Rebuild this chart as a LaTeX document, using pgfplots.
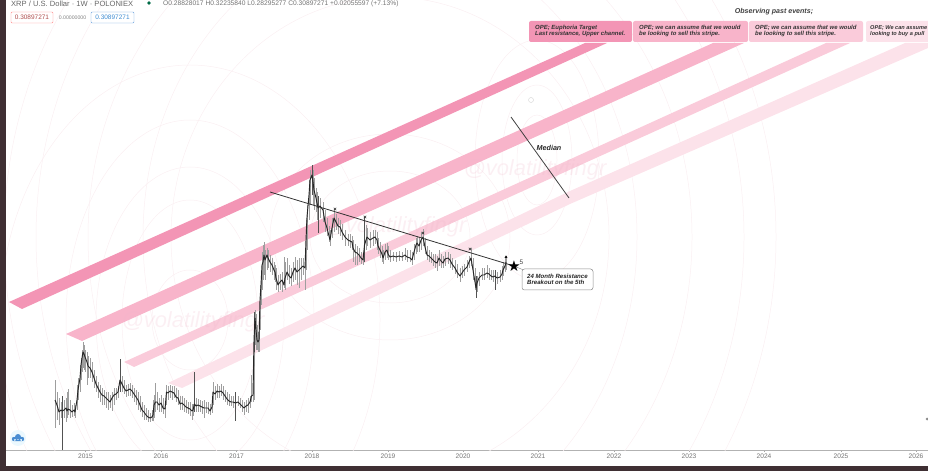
\documentclass[border=0pt]{standalone}
\usepackage{pgfplots}
\usepackage{pgfplotstable}
\usepackage{fontspec}
\setmainfont{Liberation Sans}
\pgfplotsset{compat=1.18}
\definecolor{bgd}{HTML}{3F2F33}
\definecolor{bandA}{HTML}{F395B5}
\definecolor{bandB}{HTML}{F8B4CA}
\definecolor{bandC}{HTML}{FACBDA}
\definecolor{bandD}{HTML}{FCE2EA}
\definecolor{ring}{HTML}{FAEFF2}
\definecolor{wm}{HTML}{EFB8CA}
\pgfplotstableread{
x c h l
55 400 380 428
57 405 392 420
59 412 398 425
61 410 402 418
62.5 411 396 420
64 410 400 418
66 408 398 422
67 411 392 418
68 409 389 415
70 410 400 418
72 412 405 417
74 410 403 416
75 412 405 418
77 400 385 410
78 390 378 400
80 378 365 392
81 365 358 380
82 358 350 372
83 352 342 368
84 354 345 370
85 357 350 372
87 362 352 385
88 366 356 378
90 368 358 378
92 372 362 382
94 378 370 388
96 384 376 392
98 388 382 398
100 392 385 402
102 395 388 405
104 396 390 405
106 398 392 408
108 400 392 410
110 402 395 408
112 398 392 411
114 395 388 405
116 394 388 400
118 392 386 398
120 380 372 392
122 384 376 392
124 388 380 394
126 391 385 397
128 390 384 396
130 389 383 396
132 391 385 398
134 394 388 402
136 397 390 405
138 400 392 410
140 405 396 412
142 410 402 417
144 412 405 420
146 415 408 420
148 417 410 422
150 418 413 422
152 417 410 421
153 415 400 421
154 405 395 418
155.5 402 383 412
157 402 392 410
159 405 398 412
161 403 395 412
163 408 398 414
165 409 402 418
166.5 392 385 405
168 393 386 400
170 391 385 398
172 392 386 400
174 393 386 398
176 397 388 402
178 398 390 405
180 404 396 410
182 403 396 410
184 405 398 412
186 407 400 413
188 408 402 414
190 409 402 416
192 411 404 420
193 410 404 416
194.5 404 396 412
196 406 398 412
198 405 399 412
200 406 400 412
202 407 401 414
204 408 400 418
206 408 402 413
208 408 402 414
210 411 404 415
212 407 402 413
213 392 382 405
215 394 386 400
217 391 384 398
219 392 386 398
221 391 384 396
223 393 386 400
225 396 390 402
227 399 392 405
229 401 394 406
231 402 396 406
233 402 396 408
235.5 403 392 410
238 402 396 406
240 404 398 408
242 406 400 412
244 408 402 415
246 406 400 412
248 405 398 413
250 402 396 408
251.5 396 375 402
253 395 375 402
254 340 312 400
255 318 310 345
256 330 314 350
257 340 325 350
258 342 332 352
259 340 320 352
260 300 285 330
261 285 270 305
262 265 252 290
263 262 245 280
264 255 242 275
265 260 250 280
267 255 248 270
268 258 250 268
270 262 255 272
272 265 258 275
274 270 262 280
275 272 265 282
276 278 268 290
278 285 275 292
280 282 274 290
282 280 272 292
284 285 257 288
285 278 262 290
287 272 258 280
289 276 265 284
291 278 268 286
293 272 262 282
295 268 257 280
297 272 260 285
299 270 258 288
301 268 258 280
303 266 258 275
305 268 258 290
306 240 220 270
307 217 205 250
309 195 180 220
310 180 170 205
312 175 165 195
313 182 170 205
314 190 178 210
316 198 188 212
317 203 192 220
318 208 196 233
320 206 198 218
323 210 202 222
325 222 210 232
327 228 218 236
329 236 226 242
330 240 230 246
332 228 218 238
334 218 209 232
336 222 214 230
338 226 218 234
340 227 220 236
342 232 224 240
345 237 230 246
348 240 234 246
350 241 234 248
352 242 236 250
353 248 240 262
355 252 244 265
357 253 246 265
359 255 248 262
361 258 252 264
363 260 252 265
364.5 245 230 262
366 240 225 250
367 237 228 246
370 240 232 248
373 238 230 246
375 237 230 244
377 240 232 250
378 246 238 254
380 250 242 258
382 254 246 262
383 258 250 264
385 252 244 260
387 250 243 258
388 254 246 260
390 257 250 262
393 256 252 261
396 257 252 262
399 256 251 261
402 257 252 261
405 255 248 260
407 257 250 262
410 258 250 262
412 260 252 265
414 252 244 260
416 245 238 254
417 243 236 252
419 246 238 252
421 240 232 250
423 237 229 246
425 247 238 254
427 255 246 260
429 256 250 262
431 258 252 263
433 260 254 266
435 262 254 268
437 263 256 271
439 258 250 266
441 261 254 268
443 263 256 268
445 259 252 266
448 258 252 264
450 260 254 268
452 264 258 270
455 268 260 274
457 272 264 278
460 276 268 282
462 273 266 278
464 270 264 276
467 267 260 272
469 262 256 268
471 258 248 266
473 270 258 280
475 282 268 290
476 288 276 292
477 283 276 292
479 278 272 286
482 275 268 280
484 275 268 280
487 273 265 278
489 274 268 280
491 276 270 280
493 277 270 282
495 276 270 280
497 278 272 284
500 277 270 282
502 274 266 280
503 270 262 276
505 266 258 272
506 262 256 270
}\pricedata
\pgfplotstableread{
x c h l
62.5 411 396 450
120 380 359 392
194.5 404 372 412
235.5 403 392 421
254 340 312 352
318 208 196 233
364.5 245 217 262
476 288 276 298
495 276 270 290
312 175 165 195
}\spikes
\begin{document}
\begin{tikzpicture}[x=1bp,y=1bp]
\begin{axis}[name=a,at={(0,0)},anchor=south west,
  scale only axis,width=922bp,height=450bp,
  xmin=6,xmax=928,ymin=0,ymax=450,y dir=reverse,
  axis y line=none,axis x line*=bottom,
  axis line style={draw=black!30,-},
  xtick={85.5,161,236.5,312,388,463,538,614,689,764,841,916},
  xticklabels={2015,2016,2017,2018,2019,2020,2021,2022,2023,2024,2025,2026},
  tick style={draw=black!35,major tick length=1.5bp},
  tick align=outside,
  xticklabel style={font=\fontsize{6.6}{7}\selectfont,text=black!55,inner sep=1.5bp,yshift=-1bp},
  clip=true]
% faint rings
\foreach \rx/\ry in {38/50,68/120,94/153,124/200,190/255}
  {\edef\tmp{\noexpand\draw[ring,line width=.5pt] (190,320) ellipse [x radius=\rx,y radius=\ry];}\tmp}
\foreach \rx/\ry in {80/66,120/103,219/240,247/300,302/340,354/400,386/430}
  {\edef\tmp{\noexpand\draw[ring,line width=.5pt] (390,237) ellipse [x radius=\rx,y radius=\ry];}\tmp}
\foreach \rx/\ry in {20/45,35/75,62/120}
  {\edef\tmp{\noexpand\draw[ring,line width=.5pt] (537,160) ellipse [x radius=\rx,y radius=\ry];}\tmp}
% bands
\addplot[fill=bandA,draw=none] coordinates {(9,302)(585,43)(607,43)(22,309)} --cycle;
\addplot[fill=bandB,draw=none] coordinates {(66,334)(713,43)(744,43)(82,341)} --cycle;
\addplot[fill=bandC,draw=none] coordinates {(124,362)(826,43)(850,43)(134,367)} --cycle;
\addplot[fill=bandD,draw=none] coordinates {(168,383)(570,191)(905,43)(928,43)(928,48)(570,204)(182,388)} --cycle;
% watermarks
\node[anchor=center,text=wm,text opacity=.22,font=\itshape\fontsize{22}{24}\selectfont] at (193,322) {@volatilityfingr};
\node[anchor=center,text=wm,text opacity=.22,font=\itshape\fontsize{22}{24}\selectfont] at (395,227) {@volatilityfingr};
\node[anchor=center,text=wm,text opacity=.22,font=\itshape\fontsize{22}{24}\selectfont] at (535,170) {@volatilityfingr};
% price: wicks and closes
\addplot[draw=none,forget plot,error bars/.cd,y dir=both,y explicit,error mark=none,
  error bar style={draw=black!38,line width=.6pt}]
  table[x=x,y=c,y error plus expr=\thisrow{l}-\thisrow{c},y error minus expr=\thisrow{c}-\thisrow{h}] {\pricedata};
\addplot[draw=none,forget plot,error bars/.cd,y dir=both,y explicit,error mark=none,
  error bar style={draw=black!68,line width=.6pt}]
  table[x=x,y=c,y error plus expr=\thisrow{l}-\thisrow{c},y error minus expr=\thisrow{c}-\thisrow{h}] {\spikes};
\addplot[draw=black!85,line width=.95pt,no markers,line join=round] table[x=x,y=c] {\pricedata};
% resistance and median
\addplot[draw=black!80,line width=.8pt] coordinates {(270,192)(514,266)};
\addplot[draw=black!75,line width=.8pt] coordinates {(511,117)(569,198)};
\addplot[draw=black!50,line width=.4pt] coordinates {(514,266)(526,271)};
% x marks
\addplot[only marks,mark=x,mark size=1.8bp,mark options={draw=black!80,line width=.6pt}]
  coordinates {(335,209)(365,217)(423,233)(470,249)};
\addplot[only marks,mark=triangle*,mark size=1.2bp,mark options={fill=black!80,draw=none}]
  coordinates {(506,257)};
\node[text=black,inner sep=0pt,font=\fontsize{15}{15}\selectfont] at (514,266) {\fontspec{DejaVu Sans}★};
\node[font=\fontsize{6.5}{7}\selectfont,text=black!75] at (521.5,262) {5};
% callout
\draw[black!45,fill=white,rounded corners=2.5bp,line width=.5pt] (522,269) rectangle (593,290);
\node[anchor=west,align=left,inner sep=0pt,text=black!85,font=\bfseries\itshape\fontsize{6.1}{5.6}\selectfont] at (527,279.5) {24 Month Resistance\\Breakout on the 5th};
\node[text=black!85,font=\bfseries\itshape\fontsize{7.2}{8}\selectfont] at (549,148) {Median};
% header boxes
\fill[fill=bandA,rounded corners=2bp] (529,21) rectangle (632,42);
\fill[fill=bandB,rounded corners=2bp] (633,21) rectangle (748,42);
\fill[fill=bandC,rounded corners=2bp] (749,21) rectangle (863,42);
\fill[fill=bandD,rounded corners=2bp] (866,21) rectangle (940,42);
\node[anchor=west,align=left,inner sep=0pt,text=black!80,font=\bfseries\itshape\fontsize{6}{5.4}\selectfont] at (535,31) {OPE; Euphoria Target\\Last resistance, Upper channel.};
\node[anchor=west,align=left,inner sep=0pt,text=black!80,font=\bfseries\itshape\fontsize{6}{5.4}\selectfont] at (639,31) {OPE; we can assume that we would\\be looking to sell this stripe.};
\node[anchor=west,align=left,inner sep=0pt,text=black!80,font=\bfseries\itshape\fontsize{6}{5.4}\selectfont] at (755,31) {OPE; we can assume that we would\\be looking to sell this stripe.};
\node[anchor=west,align=left,inner sep=0pt,text=black!80,font=\bfseries\itshape\fontsize{5.6}{5.4}\selectfont] at (870,31) {OPE; We can assume\\looking to buy a pull};
\node[anchor=center,text=black!75,font=\bfseries\itshape\fontsize{7.1}{7}\selectfont] at (774,12) {Observing past events;};
% top-left header
\node[anchor=west,inner sep=0pt,text=black!60,font=\fontsize{7.6}{8}\selectfont] at (11,3.4) {XRP / U.S. Dollar · 1W · POLONIEX};
\fill[teal!80!green!70!black] (149,3) circle [radius=1.8];
\node[anchor=west,inner sep=0pt,text=black!55,font=\fontsize{6.7}{7}\selectfont] at (163,3.4) {O0.28828017 H0.32235840 L0.28295277 C0.30897271 +0.02055597 (+7.13\%)};
\draw[red!45,fill=white,rounded corners=1bp,line width=.4pt] (11,12) rectangle (53,23);
\node[text=red!55!black!70,font=\fontsize{6.5}{7}\selectfont] at (32,17.5) {0.30897271};
\node[text=black!50,font=\fontsize{5.2}{6}\selectfont] at (72.5,17.5) {0.00000000};
\draw[cyan!60!blue!60,fill=white,rounded corners=1bp,line width=.4pt] (91,12) rectangle (134,23);
\node[text=cyan!60!blue!80,font=\fontsize{6.5}{7}\selectfont] at (112.5,17.5) {0.30897271};
% cloud icon
\fill[cyan!8] (18,438) circle [radius=8];
\fill[cyan!55!blue!75] (14,439) circle [radius=2.2] (18,437) circle [radius=3] (22,439) circle [radius=2.2] (14,439) rectangle (22,441);
% small marks
\draw[black!18,line width=.4pt] (531,100) circle [radius=2.5];
\fill[black!45] (927,419) circle [radius=1.5];
\end{axis}
\begin{scope}[shift={(a.south west)},x=1bp,y=1bp]
\fill[bgd] (-6,-21) rectangle (0,450);
\fill[bgd] (-6,-21) rectangle (922,-16);
\pgfresetboundingbox
\path (-6,-21) rectangle (922,450);
\end{scope}
\end{tikzpicture}
\end{document}
